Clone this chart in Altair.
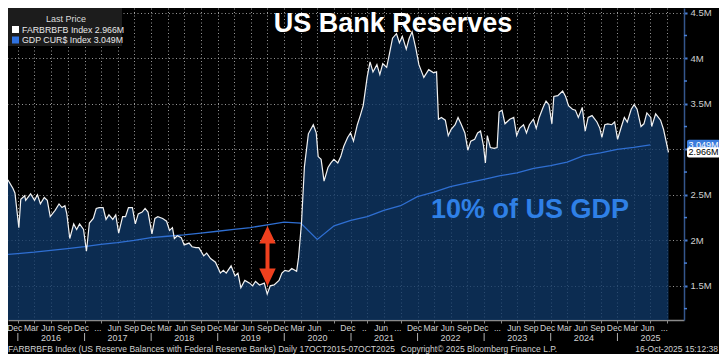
import altair as alt
import pandas as pd

PLOT_W = 676
PLOT_H = 312
SANS = "Liberation Sans, Arial, sans-serif"
BOLD = "Liberation Sans, Arial, sans-serif"

# ---------------- data ----------------
# FARBRBFB Index (reserves, $ millions shown as "M"), time as decimal year
res_year = [
    2015.792, 2015.853, 2015.927, 2015.956, 2016.015, 2016.044, 2016.103, 2016.117, 2016.191, 2016.250,
    2016.294, 2016.338, 2016.396, 2016.441, 2016.485, 2016.558, 2016.617, 2016.661, 2016.705, 2016.734,
    2016.778, 2016.837, 2016.881, 2016.925, 2016.984, 2017.028, 2017.072, 2017.131, 2017.175, 2017.219,
    2017.278, 2017.322, 2017.366, 2017.424, 2017.468, 2017.512, 2017.571, 2017.615, 2017.659, 2017.718,
    2017.762, 2017.806, 2017.865, 2017.909, 2017.953, 2018.012, 2018.056, 2018.100, 2018.173, 2018.232,
    2018.276, 2018.320, 2018.349, 2018.394, 2018.452, 2018.496, 2018.570, 2018.614, 2018.673, 2018.717,
    2018.790, 2018.834, 2018.893, 2018.966, 2019.040, 2019.084, 2019.128, 2019.201, 2019.260, 2019.304,
    2019.348, 2019.407, 2019.480, 2019.524, 2019.568, 2019.627, 2019.700, 2019.744, 2019.789, 2019.847,
    2019.921, 2019.965, 2020.009, 2020.068, 2020.112, 2020.185, 2020.214, 2020.258, 2020.302, 2020.361,
    2020.435, 2020.479, 2020.508, 2020.552, 2020.596, 2020.655, 2020.699, 2020.743, 2020.802, 2020.846,
    2020.890, 2020.949, 2020.993, 2021.037, 2021.095, 2021.139, 2021.183, 2021.242, 2021.286, 2021.330,
    2021.389, 2021.433, 2021.477, 2021.536, 2021.580, 2021.624, 2021.683, 2021.727, 2021.771, 2021.830,
    2021.874, 2021.918, 2021.976, 2022.020, 2022.094, 2022.167, 2022.241, 2022.285, 2022.314, 2022.358,
    2022.417, 2022.461, 2022.505, 2022.564, 2022.608, 2022.652, 2022.711, 2022.755, 2022.799, 2022.858,
    2022.902, 2022.946, 2022.990, 2023.019, 2023.048, 2023.093, 2023.151, 2023.195, 2023.225, 2023.269,
    2023.313, 2023.386, 2023.445, 2023.489, 2023.533, 2023.592, 2023.636, 2023.680, 2023.739, 2023.783,
    2023.827, 2023.885, 2023.930, 2023.974, 2024.018, 2024.047, 2024.106, 2024.179, 2024.223, 2024.267,
    2024.326, 2024.370, 2024.414, 2024.473, 2024.517, 2024.561, 2024.620, 2024.693, 2024.737, 2024.767,
    2024.811, 2024.855, 2024.914, 2024.958, 2025.002, 2025.060, 2025.104, 2025.148, 2025.207, 2025.251,
    2025.295, 2025.354, 2025.398, 2025.442, 2025.501, 2025.515, 2025.574, 2025.648, 2025.692, 2025.767,
]
res_value = [
    2.70, 2.66, 2.57, 2.52, 2.14, 2.45, 2.49, 2.44, 2.51, 2.44,
    2.50, 2.40, 2.47, 2.44, 2.26, 2.33, 2.40, 2.36, 2.38, 2.29,
    2.02, 2.18, 2.12, 2.18, 2.12, 1.88, 2.19, 2.24, 2.35, 2.36,
    2.36, 2.23, 2.28, 2.23, 2.28, 2.08, 2.26, 2.26, 2.36, 2.36,
    2.18, 2.29, 2.31, 2.35, 2.31, 2.07, 2.24, 2.26, 2.24, 2.21,
    2.11, 2.14, 2.02, 2.05, 2.03, 1.95, 1.97, 1.93, 1.92, 1.92,
    1.83, 1.86, 1.80, 1.76, 1.64, 1.67, 1.64, 1.72, 1.61, 1.64,
    1.48, 1.56, 1.53, 1.50, 1.55, 1.51, 1.53, 1.41, 1.50, 1.51,
    1.56, 1.64, 1.67, 1.66, 1.69, 1.66, 1.81, 2.19, 2.81, 3.17,
    3.27, 3.18, 2.92, 2.89, 2.65, 2.80, 2.85, 2.89, 2.85, 2.92,
    3.03, 3.13, 3.18, 3.09, 3.27, 3.37, 3.48, 3.79, 3.96, 3.85,
    3.93, 3.82, 3.94, 3.90, 4.06, 4.22, 4.27, 4.17, 4.24, 4.10,
    4.22, 4.29, 4.10, 3.93, 3.79, 3.875, 3.84, 3.85, 3.33, 3.35,
    3.32, 3.15, 3.22, 3.27, 3.35, 3.28, 3.18, 2.99, 3.09, 3.11,
    3.18, 3.20, 3.04, 2.85, 3.15, 3.02, 3.01, 3.02, 3.41, 3.43,
    3.28, 3.33, 3.35, 3.15, 3.23, 3.27, 3.18, 3.27, 3.33, 3.23,
    3.35, 3.46, 3.53, 3.49, 3.28, 3.58, 3.59, 3.64, 3.58, 3.48,
    3.44, 3.43, 3.35, 3.46, 3.20, 3.35, 3.37, 3.30, 3.23, 3.13,
    3.27, 3.28, 3.27, 3.30, 3.11, 3.25, 3.35, 3.30, 3.44, 3.49,
    3.44, 3.25, 3.28, 3.40, 3.35, 3.25, 3.39, 3.32, 3.22, 2.966,
]

# GDP CUR$ Index (10% of US GDP), quarterly
gdp_date = [
    "2015-09-30", "2015-12-31", "2016-03-31", "2016-06-30", "2016-09-30", "2016-12-31",
    "2017-03-31", "2017-06-30", "2017-09-30", "2017-12-31", "2018-03-31", "2018-06-30",
    "2018-09-30", "2018-12-31", "2019-03-31", "2019-06-30", "2019-09-30", "2019-12-31",
    "2020-03-31", "2020-06-30", "2020-09-30", "2020-12-31", "2021-03-31", "2021-06-30",
    "2021-09-30", "2021-12-31", "2022-03-31", "2022-06-30", "2022-09-30", "2022-12-31",
    "2023-03-31", "2023-06-30", "2023-09-30", "2023-12-31", "2024-03-31", "2024-06-30",
    "2024-09-30", "2024-12-31", "2025-03-31", "2025-06-30",
]
gdp_value = [
    1.84, 1.855, 1.87, 1.89, 1.91, 1.93,
    1.955, 1.975, 2.00, 2.03, 2.045, 2.06,
    2.08, 2.10, 2.12, 2.14, 2.17, 2.20,
    2.19, 2.01, 2.16, 2.22, 2.26, 2.33,
    2.38, 2.48, 2.53, 2.59, 2.63, 2.67,
    2.71, 2.74, 2.79, 2.82, 2.86, 2.93,
    2.96, 3.00, 3.02, 3.049,
]

month_labels = [
    "Dec",
    "Mar", "Jun", "Sep", "Dec",
    "...", "Jun", "Sep", "Dec",
    "Mar", "Jun", "Sep", "Dec",
    "Mar", "Jun", "Sep", "Dec",
    "Mar", "Jun", "...", "Dec",
    "..", "Jun", "...", "Dec",
    "Mar", "Jun", "Sep", "Dec",
    "...", "Jun", "Sep", "Dec",
    "Mar", "Jun", "Sep", "Dec",
    "Mar", "Jun", "...",
]
year_labels = ["2016", "2017", "2018", "2019", "2020", "2021", "2022", "2023", "2024", "2025"]
y_tick_values = [1.5, 2.0, 2.5, 3.0, 3.5, 4.0, 4.5]
y_minor_values = [1.25, 1.75, 2.25, 2.75, 3.25, 3.75, 4.25]

legend_title = "Last Price"
legend_labels = ["FARBRBFB Index 2.966M", "GDP CUR$ Index 3.049M"]
tag_values = [3.049, 2.966]
tag_labels = ["3.049M", "2.966M"]

arrow_date = ["2019-10-01"]
arrow_top = [2.156]
arrow_bottom = [1.50]

title_text = "US Bank Reserves"
note_text = "10% of US GDP"
footer_left = "FARBRBFB Index (US Reserve Balances with Federal Reserve Banks) Daily 17OCT2015-07OCT2025"
footer_mid = "Copyright\u00a9 2025 Bloomberg Finance L.P."
footer_right = "16-Oct-2025 15:12:38"

WHITE = "#f2f2f2"
BLUE = "#2f6fd2"
RED = "#f0401e"
LABEL = "#d2d2d2"


def year_to_ts(t):
    y = int(t)
    a = pd.Timestamp(year=y, month=1, day=1)
    b = pd.Timestamp(year=y + 1, month=1, day=1)
    return (a + (b - a) * (t - y)).round("h")


res_df = pd.DataFrame({"date": [year_to_ts(t) for t in res_year], "v": res_value})
gdp_df = pd.DataFrame({"date": pd.to_datetime(gdp_date), "v": gdp_value})
month_df = pd.DataFrame({
    "date": pd.date_range("2015-12-01", periods=len(month_labels), freq="3MS") + pd.Timedelta(days=14),
    "label": month_labels,
})
year_df = pd.DataFrame({
    "date": [pd.Timestamp(year=int(y), month=7, day=1) for y in year_labels],
    "sep": [pd.Timestamp(year=int(y), month=1, day=1) for y in year_labels],
    "label": year_labels,
})
minor_df = pd.DataFrame({"v": y_minor_values})
tag_df = pd.DataFrame({"v": tag_values, "label": tag_labels})
arrow_df = pd.DataFrame({"date": pd.to_datetime(arrow_date), "top": arrow_top, "bottom": arrow_bottom})
one = alt.Data(values=[{}])

x_scale = alt.Scale(domain=[alt.DateTime(year=2015, month=11, date=8),
                            alt.DateTime(year=2026, month=1, date=1)])
y_scale = alt.Scale(domain=[1.125, 4.552], nice=False, zero=False)

quarter_ticks = [alt.DateTime(year=y, month=m, date=1) for y in range(2016, 2026) for m in (1, 4, 7, 10)]

x_axis = alt.Axis(values=quarter_ticks, labels=False, title=None, grid=True,
                  gridColor="#a8a8a8", gridDash=[1, 2.5], gridOpacity=0.9, gridWidth=1,
                  tickColor="#8a8a8a", tickSize=3, domainColor="#8a8a8a", domainWidth=1.5)
# the 3M label sits under the last-value tags in the reference, so it is left blank
y_axis = alt.Axis(orient="right", values=y_tick_values, title=None,
                  format="~g", labelExpr="datum.value == 3 ? '' : datum.label + 'M'",
                  grid=True, gridColor="#a8a8a8", gridDash=[1, 2.5], gridOpacity=0.9,
                  tickColor="#4a80d6", tickSize=3, tickWidth=2,
                  domainColor="#34568c", domainWidth=1.5,
                  labelColor="#cfcfcf", labelFont=SANS, labelFontSize=9.5, labelPadding=3)

# every layer carries the same axis definition so that the shared axes merge cleanly
X = lambda f="date": alt.X(f"{f}:T", scale=x_scale, axis=x_axis)
Y = lambda f="v": alt.Y(f"{f}:Q", scale=y_scale, axis=y_axis)

area = alt.Chart(res_df).mark_area(color="#103868", fillOpacity=0.78, clip=True).encode(
    x=X(), y=Y(), y2=alt.value(PLOT_H),
)
res_line = alt.Chart(res_df).mark_line(color=WHITE, strokeWidth=1.2, clip=True).encode(x=X(), y=Y())
gdp_line = alt.Chart(gdp_df).mark_line(color=BLUE, strokeWidth=1.3, clip=True).encode(x=X(), y=Y())

minor_ticks = alt.Chart(minor_df).mark_rule(color="#4a80d6", strokeWidth=1.5).encode(
    x=alt.value(PLOT_W), x2=alt.value(PLOT_W + 3), y=Y())

# arrow
arrow_shaft = alt.Chart(arrow_df).transform_calculate(
    s1="datum.top - 0.09", s2="datum.bottom + 0.09"
).mark_rule(color=RED, strokeWidth=4).encode(x=X(), y=Y("s1"), y2="s2:Q")
arrow_up = alt.Chart(arrow_df).mark_point(shape="M-0.95,1L0.95,1L0,-1Z", size=300, filled=True,
                                          color=RED, opacity=1, yOffset=8.6).encode(x=X(), y=Y("top"))
arrow_down = alt.Chart(arrow_df).mark_point(shape="M-0.95,-1L0.95,-1L0,1Z", size=300, filled=True,
                                            color=RED, opacity=1, yOffset=-8.6).encode(x=X(), y=Y("bottom"))

# legend box
leg_bg = alt.Chart(one).mark_rect(color="#1c1c1c").encode(
    x=alt.value(0), x2=alt.value(114), y=alt.value(0), y2=alt.value(38))
leg_title = alt.Chart(one).mark_text(text=legend_title, font=SANS, fontSize=9, color="#dcdcdc",
                                     align="center", baseline="middle").encode(
    x=alt.value(58), y=alt.value(11))
leg_sq1 = alt.Chart(one).mark_rect(color="#ffffff").encode(
    x=alt.value(4), x2=alt.value(11), y=alt.value(18), y2=alt.value(25))
leg_sq2 = alt.Chart(one).mark_rect(color="#2f72e0").encode(
    x=alt.value(4), x2=alt.value(11), y=alt.value(28.5), y2=alt.value(35.5))
leg_t1 = alt.Chart(one).mark_text(text=legend_labels[0], font=SANS, fontSize=8.8, color="#e8e8e8",
                                  align="left", baseline="middle").encode(x=alt.value(14), y=alt.value(21.8))
leg_t2 = alt.Chart(one).mark_text(text=legend_labels[1], font=SANS, fontSize=8.8, color="#e8e8e8",
                                  align="left", baseline="middle").encode(x=alt.value(14), y=alt.value(32.3))

title = alt.Chart(one).mark_text(text=title_text, font=BOLD, fontSize=27, fontWeight="bold",
                                 color="#ffffff", align="center", baseline="alphabetic").encode(
    x=alt.value(385), y=alt.value(24))
note = alt.Chart(one).mark_text(text=note_text, font=BOLD, fontSize=27, fontWeight="bold",
                                color="#2f80e6", align="left", baseline="alphabetic").encode(
    x=alt.value(423), y=alt.value(210))

# bottom labels
months = alt.Chart(month_df).mark_text(font=SANS, fontSize=8.5, color=LABEL,
                                       baseline="middle").encode(
    x=X(), y=alt.value(PLOT_H + 8), text="label:N")
years = alt.Chart(year_df).mark_text(font=SANS, fontSize=9, color=LABEL,
                                     baseline="middle").encode(
    x=X(), y=alt.value(PLOT_H + 18), text="label:N")
seps = alt.Chart(year_df).mark_rule(color="#b0b0b0", strokeWidth=1).encode(
    x=X("sep"), y=alt.value(PLOT_H + 13), y2=alt.value(PLOT_H + 21))

foot_l = alt.Chart(one).mark_text(text=footer_left, font=SANS, fontSize=8.5, color=LABEL,
                                  align="left", baseline="middle").encode(x=alt.value(0), y=alt.value(PLOT_H + 29))
foot_m = alt.Chart(one).mark_text(text=footer_mid, font=SANS, fontSize=8.5, color=LABEL,
                                  align="center", baseline="middle").encode(x=alt.value(471), y=alt.value(PLOT_H + 29))
foot_r = alt.Chart(one).mark_text(text=footer_right, font=SANS, fontSize=8.5, color=LABEL,
                                  align="right", baseline="middle").encode(x=alt.value(PLOT_W + 34), y=alt.value(PLOT_H + 29))


# last-value tags: GDP tag first, reserves tag drawn over it
def tag_layers(label, fill, text_color):
    src = alt.Chart(tag_df).transform_filter(alt.datum.label == label)
    rect = src.transform_calculate(
        t1="datum.v + 0.056", t2="datum.v - 0.056"
    ).mark_rect(cornerRadius=2, color=fill).encode(
        x=alt.value(PLOT_W + 3), x2=alt.value(PLOT_W + 36), y=Y("t1"), y2="t2:Q")
    txt = src.mark_text(font=SANS, fontSize=9, align="left", baseline="middle", color=text_color).encode(
        x=alt.value(PLOT_W + 4.5), y=Y(), text="label:N")
    return [rect, txt]


tags = tag_layers(tag_labels[0], "#3a7bdc", "#ffffff") + tag_layers(tag_labels[1], "#ffffff", "#000000")

chart = alt.layer(
    area, gdp_line, res_line, minor_ticks,
    arrow_shaft, arrow_up, arrow_down,
    leg_bg, leg_title, leg_sq1, leg_sq2, leg_t1, leg_t2,
    title, note, months, years, seps, foot_l, foot_m, foot_r,
    *tags,
).properties(
    width=PLOT_W, height=PLOT_H,
    autosize=alt.AutoSizeParams(type="none"),
    padding={"left": 0, "top": 0, "right": 35, "bottom": 34},
    background="#000000",
).configure_view(strokeWidth=0)

chart.save("out.html", embed_options={"renderer": "svg", "actions": False})
